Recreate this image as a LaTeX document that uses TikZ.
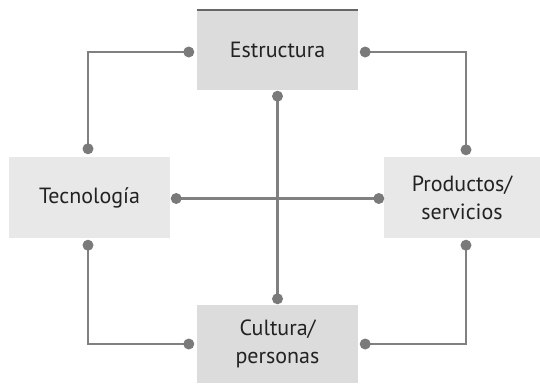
\documentclass[tikz,border=0pt]{standalone}
\usepackage{fontspec}
\setmainfont{PT Sans}
\usepackage{xcolor}
\usetikzlibrary{calc}

\definecolor{boxdark}{HTML}{DCDCDC}
\definecolor{boxlight}{HTML}{E8E8E8}
\definecolor{linegray}{HTML}{808080}
\definecolor{dotgray}{HTML}{7A7A7A}
\definecolor{textgray}{HTML}{222222}

\tikzset{
	block/.style={minimum width=161pt, minimum height=80pt, inner sep=0pt,
		align=center, text=textgray, font=\fontsize{22}{28}\selectfont},
	link/.style={linegray, line width=2.6pt},
}

\begin{document}
\begin{tikzpicture}[x=1pt,y=-1pt]
			
			\useasboundingbox (0,0) rectangle (540,383);
			
			% boxes
			\node[block, fill=boxdark] (estr) at (277.5,50) {Estructura};
			\node[block, fill=boxlight, minimum height=81pt] (tecn) at (89.5,197.5) {Tecnología};
			\node[block, fill=boxlight, minimum width=156pt, minimum height=81pt] (prod) at (462,197.5) {Productos/\\servicios};
			\node[block, fill=boxdark, minimum height=78pt] (cult) at (277.5,344) {Cultura/\\personas};
			
			% dark rule on top of the first box
			\draw[color=black!60, line width=1.5pt] (estr.north west) -- (estr.north east);
			
			% end points
			\coordinate (estr-w) at ($(estr.west)+(-8,2)$);
			\coordinate (estr-e) at ($(estr.east)+(7,2)$);
			\coordinate (estr-s) at ($(estr.south)+(0,6)$);
			\coordinate (tecn-n) at ($(tecn.north)+(-1.5,-8)$);
			\coordinate (tecn-e) at ($(tecn.east)+(6,1)$);
			\coordinate (tecn-s) at ($(tecn.south)+(-1.5,7)$);
			\coordinate (prod-n) at ($(prod.north)+(4,-7)$);
			\coordinate (prod-w) at ($(prod.west)+(-5,1)$);
			\coordinate (prod-s) at ($(prod.south)+(4,7)$);
			\coordinate (cult-n) at ($(cult.north)+(0,-6)$);
			\coordinate (cult-w) at ($(cult.west)+(-8,0)$);
			\coordinate (cult-e) at ($(cult.east)+(7,0)$);
			
			% connectors
			\draw[link] (estr-w) -| (tecn-n);
			\draw[link] (estr-e) -| (prod-n);
			\draw[link] (cult-w) -| (tecn-s);
			\draw[link] (cult-e) -| (prod-s);
			\draw[link] (estr-s) -- (cult-n);
			\draw[link] (tecn-e) -- (prod-w);
			
			% dots
			\foreach \p in {estr-w,estr-e,estr-s,tecn-n,tecn-e,tecn-s,prod-n,prod-w,prod-s,cult-n,cult-w,cult-e}
			\fill[dotgray] (\p) circle (5.5);
			
		\end{tikzpicture}
\end{document}
